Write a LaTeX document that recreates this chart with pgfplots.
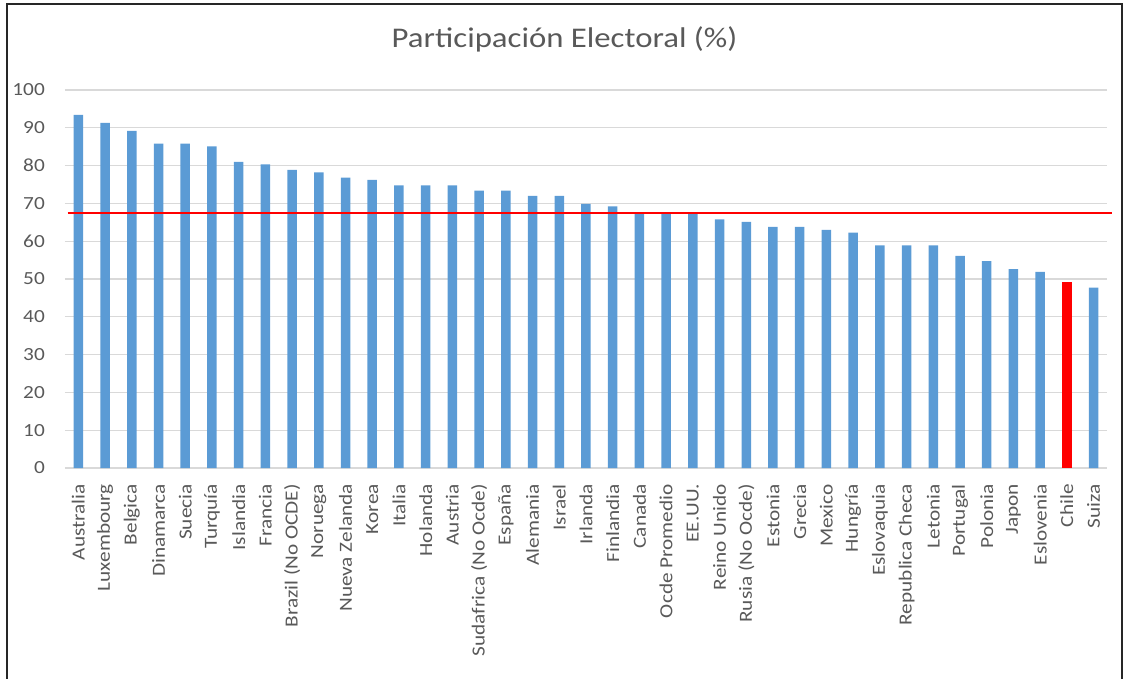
\documentclass[border=0pt]{standalone}
\usepackage{fontspec}
\setmainfont[FakeStretch=1.15]{Carlito}
\usepackage{pgfplots}
\usepackage{pgfplotstable}
\pgfplotsset{compat=1.18}

\definecolor{barblue}{HTML}{5B9BD5}
\definecolor{txtgray}{HTML}{595959}
\definecolor{gridgray}{HTML}{D9D9D9}

% Participación electoral por país (%), ordenada de mayor a menor
\pgfplotstableread{
x v
0 93.4
1 91.3
2 89.2
3 85.8
4 85.8
5 85.1
6 81.0
7 80.3
8 78.9
9 78.2
10 76.8
11 76.2
12 74.8
13 74.8
14 74.8
15 73.4
16 73.4
17 72.0
18 72.0
19 69.9
20 69.2
21 67.6
22 67.6
23 67.6
24 65.8
25 65.1
26 63.8
27 63.8
28 63.0
29 62.3
30 58.9
31 58.9
32 58.9
33 56.1
34 54.7
35 52.6
36 51.9
38 47.7
}\turnout

\begin{document}
\begin{tikzpicture}[x=1pt,y=1pt]
\begin{axis}[
  at={(65pt,210pt)}, anchor=south west,
  scale only axis, width=1042pt, height=378pt,
  xmin=-0.5, xmax=38.5, ymin=0, ymax=100,
  ytick={0,10,...,100},
  xtick={0,...,38},
  xticklabels={Australia, Luxembourg, Belgica, Dinamarca, Suecia, Turquía,
    Islandia, Francia, Brazil (No OCDE), Noruega, Nueva Zelanda, Korea, Italia,
    Holanda, Austria, Sudafrica (No Ocde), España, Alemania, Israel, Irlanda,
    Finlandia, Canada, Ocde Promedio, EE.UU., Reino Unido, Rusia (No Ocde),
    Estonia, Grecia, Mexico, Hungría, Eslovaquia, Republica Checa, Letonia,
    Portugal, Polonia, Japon, Eslovenia, Chile, Suiza},
  axis line style={draw=none},
  tick style={draw=none},
  ymajorgrids,
  grid style={gridgray, line width=1.3pt},
  /pgf/number format/assume math mode=true,
  tick label style={font=\fontsize{18.5}{18.5}\selectfont, text=txtgray},
  yticklabel style={anchor=east, inner sep=0pt},
  yticklabel shift=20pt,
  xticklabel style={rotate=90, anchor=east, inner sep=0pt},
  xticklabel shift=16pt,
  clip=false,
]
\addplot[ybar, bar width=9.5pt, bar shift=0pt, fill=barblue, draw=none]
  table[x=x, y=v] {\turnout};
\addplot[ybar, bar width=9.5pt, bar shift=0pt, fill=red, draw=none]
  coordinates {(37,49.2)};
% promedio OCDE
\addplot[red, line width=2.5pt] coordinates {(-0.4,67.5) (38.67,67.5)};
\end{axis}
\node[anchor=base, text=txtgray, font=\fontsize{28.5}{28.5}\selectfont]
  at (564.5pt,630pt) {Participación Electoral (\%)};
\draw[line width=2pt, black!85] (7pt,-10pt) rectangle (1122pt,674pt);
\pgfresetboundingbox
\path[use as bounding box] (0,0) rectangle (1127pt,678pt);
\end{tikzpicture}
\end{document}
